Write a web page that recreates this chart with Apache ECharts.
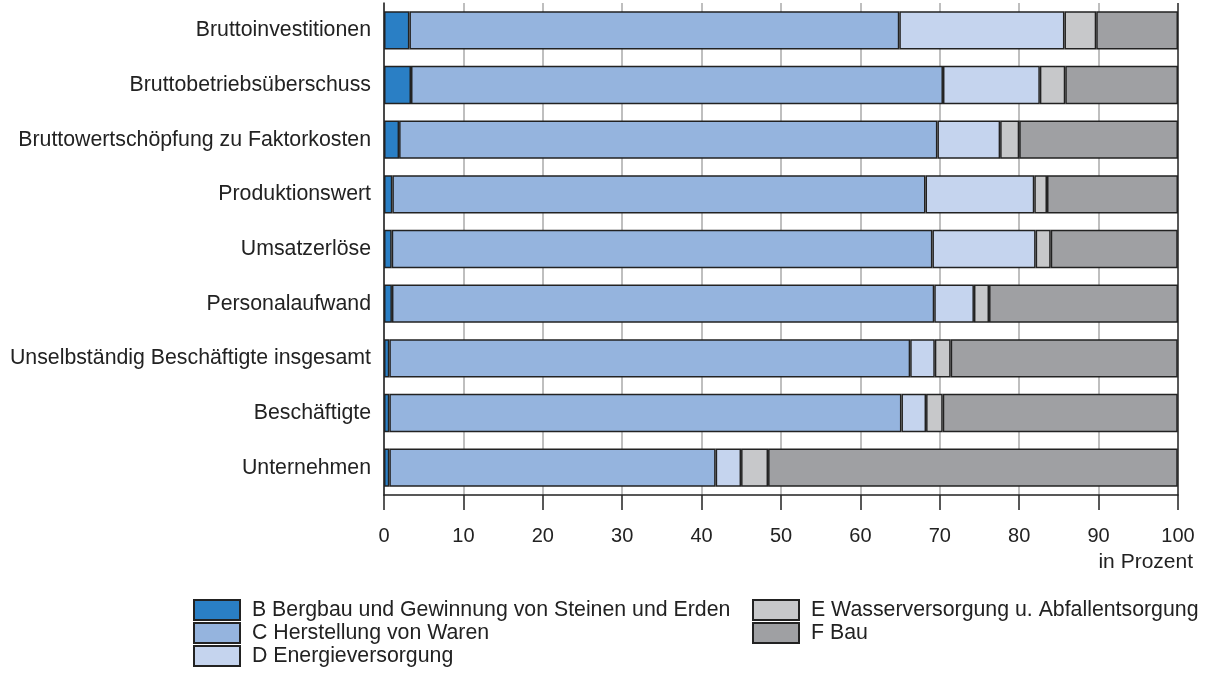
<!DOCTYPE html>
<html>
<head>
<meta charset="utf-8">
<script src="https://cdn.jsdelivr.net/npm/echarts@6/dist/echarts.min.js"></script>
<style>
html,body{margin:0;padding:0;background:#fff;}
#chart{width:1205px;height:677px;}
</style>
</head>
<body>
<div id="chart"></div>
<script>
const categories = [
  'Bruttoinvestitionen',
  'Bruttobetriebsüberschuss',
  'Bruttowertschöpfung zu Faktorkosten',
  'Produktionswert',
  'Umsatzerlöse',
  'Personalaufwand',
  'Unselbständig Beschäftigte insgesamt',
  'Beschäftigte',
  'Unternehmen'
];
const seriesNames = [
  'B Bergbau und Gewinnung von Steinen und Erden',
  'C Herstellung von Waren',
  'D Energieversorgung',
  'E Wasserversorgung u. Abfallentsorgung',
  'F Bau'
];
const valuesB = [3.2, 3.4, 1.9, 1.05, 0.97, 1.0, 0.67, 0.67, 0.67];
const valuesC = [61.7, 67.0, 67.8, 67.15, 68.1, 68.3, 65.6, 64.5, 41.1];
const valuesD = [20.8, 12.2, 7.9, 13.7, 13.0, 5.0, 3.1, 3.1, 3.2];
const valuesE = [4.0, 3.2, 2.4, 1.6, 1.9, 1.9, 2.0, 2.1, 3.4];
const valuesF = [10.3, 14.2, 20.0, 16.5, 16.0, 23.8, 28.6, 29.6, 51.6];
const xTicks = [0, 10, 20, 30, 40, 50, 60, 70, 80, 90, 100];
const colors = ['#2a7fc5', '#95b4de', '#c5d4ee', '#c7c8ca', '#9fa0a3'];

const font = '"Liberation Sans", Arial, Helvetica, sans-serif';
const allValues = [valuesB, valuesC, valuesD, valuesE, valuesF];

const chart = echarts.init(document.getElementById('chart'), null, {renderer: 'canvas'});
const gridColors = xTicks.map((t, i) => i === xTicks.length - 1 ? '#222' : '#aaaaaa');

const legendText = {fontFamily: font, fontSize: 21.3, color: '#222', lineHeight: 20, padding: [0, 0, 0, 7]};

chart.setOption({
  animation: false,
  backgroundColor: '#fff',
  textStyle: {fontFamily: font},
  title: {
    text: 'in Prozent',
    right: 12,
    top: 552,
    padding: 0,
    textStyle: {fontFamily: font, fontSize: 21, fontWeight: 'normal', color: '#222'}
  },
  grid: {left: 384, right: 27, top: 3, bottom: 182, containLabel: false},
  xAxis: {
    type: 'value',
    min: xTicks[0],
    max: xTicks[xTicks.length - 1],
    interval: 10,
    axisLine: {show: true, lineStyle: {color: '#222', width: 1.5}},
    axisTick: {show: true, length: 15, lineStyle: {color: '#222', width: 1.5}},
    axisLabel: {fontFamily: font, fontSize: 20, color: '#222', margin: 31},
    splitLine: {show: true, lineStyle: {color: gridColors, width: 1.5}}
  },
  yAxis: {
    type: 'category',
    data: categories,
    inverse: true,
    axisLine: {show: true, lineStyle: {color: '#222', width: 1.5}},
    axisTick: {show: false},
    axisLabel: {fontFamily: font, fontSize: 21.3, color: '#222', margin: 13}
  },
  legend: [
    {
      data: seriesNames.slice(0, 3),
      orient: 'vertical',
      left: 193, top: 599,
      itemWidth: 46, itemHeight: 20, itemGap: 1,
      icon: 'rect',
      textStyle: legendText,
      padding: 0
    },
    {
      data: seriesNames.slice(3),
      orient: 'vertical',
      left: 752, top: 599,
      itemWidth: 46, itemHeight: 20, itemGap: 1,
      icon: 'rect',
      textStyle: legendText,
      padding: 0
    }
  ],
  series: seriesNames.map((name, i) => ({
    name: name,
    type: 'bar',
    stack: 'total',
    data: allValues[i],
    barCategoryGap: '30%',
    itemStyle: {color: colors[i], borderColor: '#222', borderWidth: 1.5}
  }))
});
</script>
</body>
</html>
